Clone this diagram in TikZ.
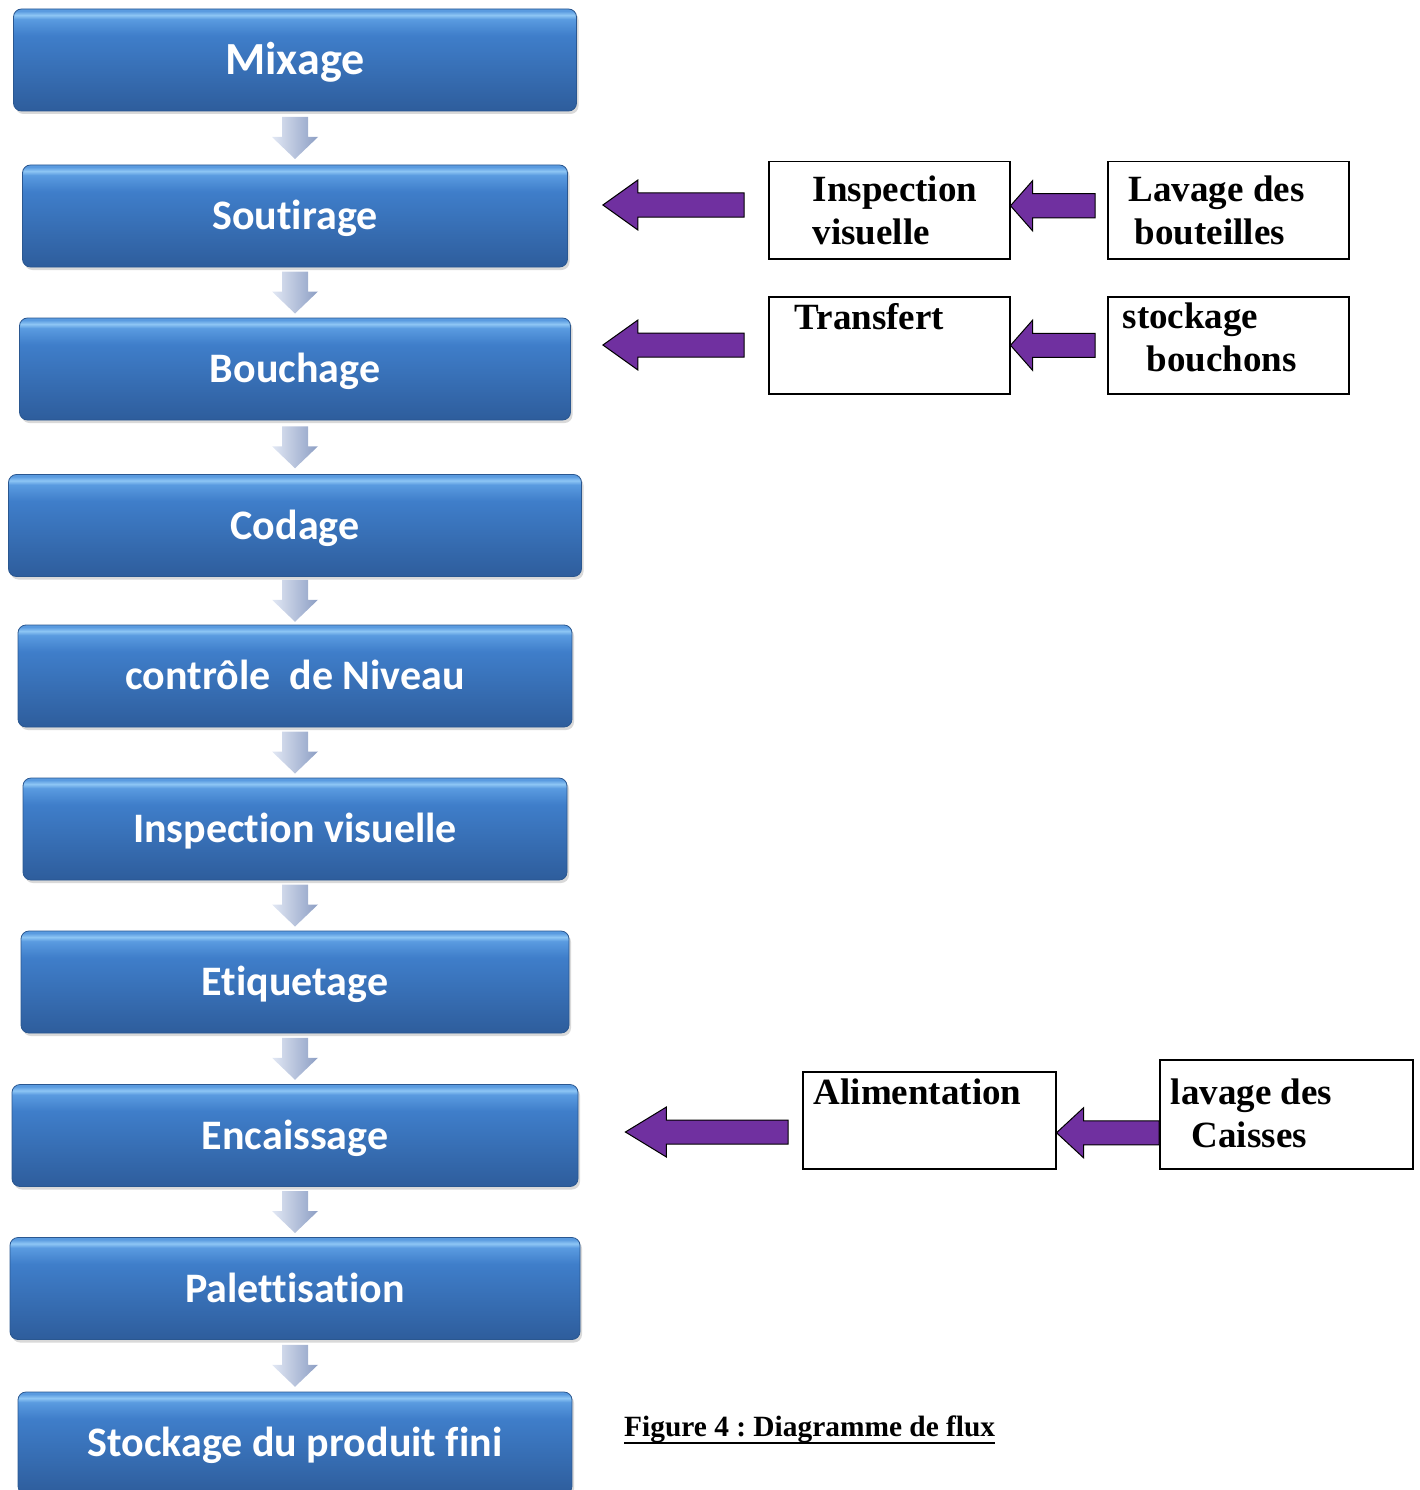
\documentclass[tikz,border=0pt]{standalone}
\usepackage{fontspec}
\setmainfont{Liberation Serif}
\newfontfamily\calibri[Ligatures={NoCommon,NoContextual}]{Carlito}
\usetikzlibrary{calc,shadows}

\definecolor{bleuF}{HTML}{2E5D9C}
\definecolor{bleuM}{HTML}{3F7ECA}
\definecolor{bleuC}{HTML}{5A9BE0}
\definecolor{bleuH}{HTML}{8EC6F5}
\definecolor{bleuB}{HTML}{2A5790}
\definecolor{grisC}{HTML}{E2E8F4}
\definecolor{grisF}{HTML}{8C9EC4}
\definecolor{violetF}{HTML}{7030A0}

\pgfdeclareverticalshading{boitebleue}{100bp}{color(0bp)=(bleuF); color(25bp)=(bleuF);
  color(62bp)=(bleuM); color(70bp)=(bleuC); color(72bp)=(bleuH); color(74bp)=(bleuC);
  color(100bp)=(bleuC)}

\tikzset{
  etape/.style={shading=boitebleue, draw=bleuB, line width=0.8pt, rounded corners=8pt,
    minimum height=102pt, text=white, font=\calibri\bfseries\fontsize{42}{46}\selectfont,
    text height=27pt, text depth=0pt,
    drop shadow={shadow xshift=2pt, shadow yshift=-3pt, opacity=.3}},
  descente/.style={left color=grisC, right color=grisF, draw=none},
  boite/.style={draw, line width=1.5pt, anchor=north west, inner sep=0pt, align=flush left,
    minimum height=97pt, font=\bfseries\fontsize{37}{43}\selectfont},
  fleche/.style={fill=violetF, draw=black, line width=1pt}
}

% pointe, queue, longueur de la tete
\newcommand{\fleche}[3]{\filldraw[fleche] let \p1=#1, \p2=#2 in
  (\p1) -- (\x1+#3,\y1+25pt) -- (\x1+#3,\y1+12pt) -- (\x2,\y1+12pt)
  -- (\x2,\y1-12pt) -- (\x1+#3,\y1-12pt) -- (\x1+#3,\y1-25pt) -- cycle;}

\begin{document}
\frenchspacing
\begin{tikzpicture}[x=1pt, y=-1pt]
\useasboundingbox (0,0) rectangle (1420,1490);
\node[etape, minimum width=563pt, font=\calibri\bfseries\fontsize{46}{50}\selectfont,
  text height=30pt] (e1) at (295,60) {Mixage};
\foreach \n/\y/\w/\txt in {2/216/545/Soutirage, 3/369/551/Bouchage, 4/525.5/573/Codage,
    5/676/554/{contrôle\ \ de Niveau}, 6/829/544/{Inspection visuelle},
    7/982/548/Etiquetage, 8/1135.5/566/Encaissage, 9/1288.5/570/Palettisation,
    10/1443/554/{Stockage du produit fini}}
  \node[etape, minimum width=\w pt] (e\n) at (295,\y) {\txt};
\foreach \i/\j in {1/2, 2/3, 3/4, 4/5, 5/6, 6/7, 7/8, 8/9, 9/10}
  \shade[descente] ($(e\i.south)!0.5!(e\j.north)$) ++(-13,-21) -- ++(26,0) -- ++(0,20)
    -- ++(10,0) -- ++(-23,22) -- ++(-23,-22) -- ++(10,0) -- cycle;

\node[boite, minimum width=241pt, text width=241pt] (insp) at (768,161)
  {\hspace*{44pt}Inspection\\\hspace*{44pt}visuelle};
\node[boite, minimum width=241pt, text width=241pt] (lav) at (1107,161)
  {\hspace*{21pt}Lavage des\\\hspace*{27pt}bouteilles};
\node[boite, minimum width=241pt, text width=241pt] (transf) at (768,296)
  {\hspace*{26pt}Transfert\\\rule[-15pt]{0pt}{15pt}};
\node[boite, minimum width=241pt, text width=241pt] (stk) at (1107,296)
  {\hspace*{15pt}stockage\\\hspace*{39pt}bouchons\rule[-17pt]{0pt}{17pt}};
\node[boite, minimum width=253pt, text width=253pt] (alim) at (802,1071)
  {\hspace*{11pt}Alimentation\\\rule[-15pt]{0pt}{15pt}};
\node[boite, minimum width=253pt, text width=253pt, minimum height=109pt] (caisses) at (1159,1059)
  {\hspace*{11pt}lavage des\\\hspace*{32pt}Caisses\rule[-3pt]{0pt}{3pt}};

\fleche{([xshift=35pt,yshift=11pt]e2.east)}{([xshift=-24pt,yshift=4.5pt]insp.west)}{35pt}
\fleche{([yshift=4.5pt]insp.east)}{([xshift=-12pt,yshift=4.5pt]lav.west)}{22pt}
\fleche{([xshift=32pt,yshift=24pt]e3.east)}{([xshift=-24pt]transf.west)}{35pt}
\fleche{(transf.east)}{([xshift=-12pt]stk.west)}{22pt}
\fleche{([xshift=47pt,yshift=3.5pt]e8.east)}{([xshift=-14pt,yshift=-12.5pt]alim.west)}{41pt}
\fleche{([yshift=-12.5pt]alim.east)}{([yshift=-18.5pt]caisses.west)}{27pt}

\node[anchor=base west, inner sep=0pt, font=\bfseries\fontsize{29.4}{33}\selectfont] (legende)
  at (624,1436) {Figure 4 : Diagramme de flux};
\draw[line width=2.5pt] ([yshift=-7pt]legende.base west) -- ([yshift=-7pt]legende.base east);
\end{tikzpicture}
\end{document}
